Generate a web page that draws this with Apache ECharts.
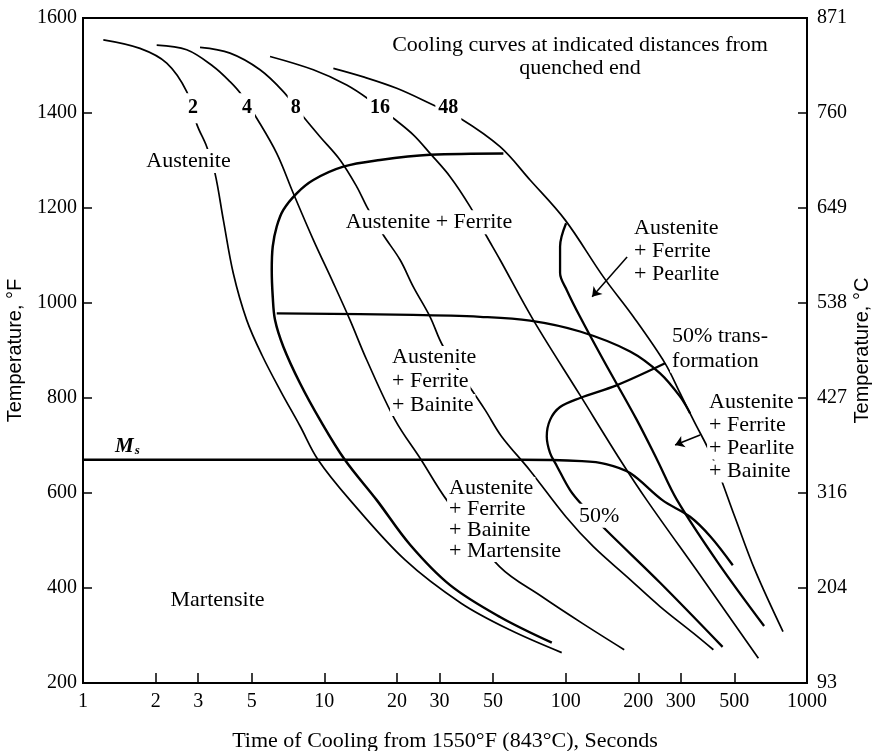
<!DOCTYPE html>
<html>
<head>
<meta charset="utf-8">
<script src="https://cdn.jsdelivr.net/npm/echarts@6/dist/echarts.min.js"></script>
<style>html,body{margin:0;padding:0;background:#fff}#c{width:873px;height:751px}</style>
</head>
<body>
<div id="c"></div>
<script>
// ---------- data ----------
const timeTicks = [1, 2, 3, 5, 10, 20, 30, 50, 100, 200, 300, 500, 1000];
const tempTicksF = [200, 400, 600, 800, 1000, 1200, 1400, 1600];
const tempTicksC = ['93', '204', '316', '427', '538', '649', '760', '871'];

// cooling curves [time s, temperature °F]
const cool2 = [[1.214,1554],[1.722,1536],[2.223,1505],[2.690,1445],[2.968,1375],[3.256,1329],[3.524,1273],[3.815,1175],[4.197,1062],[4.769,964],[5.519,890],[6.615,813],[7.93,741],[9.417,670],[12.78,585],[21.6,459],[36.86,368],[58.6,312],[96.3,264]];
const cool4 = [[2.020,1543],[2.690,1533],[3.467,1498],[4.067,1466],[4.547,1438],[5.247,1389],[6.350,1315],[7.437,1231],[9.003,1133],[10.90,1042],[12.78,964],[14.99,880],[19.63,754],[25.17,670],[32.16,585],[53.22,445],[79.6,382],[116.9,326],[174.8,270]];
const cool8 = [[3.054,1538],[4.067,1526],[5.414,1491],[6.763,1445],[8.185,1392],[9.598,1350],[11.62,1301],[13.62,1245],[14.99,1203],[17.56,1143],[20.59,1091],[23.38,1034],[27.42,971],[31.13,908],[46.35,775],[54.25,719],[71.0,648],[100.2,550],[130.3,487],[179.2,424],[246.2,361],[338.1,305],[409.4,270]];
const cool16 = [[5.957,1519],[9.003,1491],[12.38,1459],[15.47,1427],[19.32,1389],[23.38,1354],[27.42,1315],[33.2,1266],[40.17,1203],[47.1,1140],[53.46,1091],[73.48,964],[114.7,806],[168.1,670],[216.8,585],[367.6,421],[628.9,252]];
const cool48 = [[10.90,1494],[14.51,1476],[19.95,1452],[27.42,1420],[36.51,1389],[53.46,1329],[71.21,1259],[99.43,1175],[143.3,1055],[190.8,971],[258.2,873],[298,810],[338.1,754],[409.4,670],[502.1,550],[608.3,438],[795.4,308]];

// transformation lines
const ferriteStart = [[55.19,1315],[27.42,1312],[17.02,1301],[11.99,1287],[9.003,1259],[7.685,1231],[6.763,1196],[6.35,1161],[6.113,1119],[6.055,1070],[6.113,1013],[6.248,964],[6.763,908],[7.93,831],[9.598,754],[12.16,670],[16.49,585],[22.66,491],[33.2,406],[53.46,339],[87.6,285]];
const bainiteStart = [[6.35,978],[23.32,975],[44.19,971],[71.21,963],[114.7,940],[184.9,898],[246.2,852],[298,803],[327.7,768]];
const pearliteStart = [[100.4,1168],[94.8,1119],[94.8,1063],[101.1,1027],[114.7,971],[143.3,880],[197.1,754],[239.2,670],[289.5,585],[428.2,453],[664.1,320]];
const fiftyPercent = [[258.2,873],[163.3,827],[114.7,800],[94.8,781],[86.2,754],[83.5,719],[86.2,684],[91.9,657],[104.3,606],[116.9,575],[147.0,522],[246.2,411],[446.9,276]];
const msLine = [[1,670],[64.7,670],[116.9,667],[147,661],[184.9,642],[251.6,585],[327.7,550],[398.6,508],[492.6,448]];

// annotations [text, time, temperature]
const distanceLabels = ['2', '4', '8', '16', '48'];
const distanceLabelTimes = [2.857, 4.783, 7.61, 17.02, 32.65];
const distanceLabelTemp = 1410;
const centeredNotes = [
  ['Austenite', 2.737, 1299],
  ['Austenite + Ferrite', 27.16, 1170],
  ['50%', 137.6, 552],
  ['Martensite', 3.609, 375],
  ['Cooling curves at indicated distances from\nquenched end', 114.7, 1519]
];
const leftNotes = [
  ['Austenite\n+ Ferrite\n+ Pearlite', 188.5, 1110],
  ['50% trans-\nformation', 270.8, 903],
  ['Austenite\n+ Ferrite\n+ Pearlite\n+ Bainite', 385.5, 718],
  ['Austenite\n+ Ferrite\n+ Bainite', 18.72, 836],
  ['Austenite\n+ Ferrite\n+ Bainite\n+ Martensite', 32.25, 544]
];
const msNote = ['Ms', 1.357, 697];
const arrows = [[[179.7, 1097], [128.7, 1013]], [[360.6, 722], [284, 701]]];

// ---------- chart ----------
const INK = '#000';
const SERIF = 'Liberation Serif';
const SANS = 'Liberation Sans';
const leftLineHeights = [23, 25, 23, 24, 21];

function wrapRich(text) {
  return text.split('\n').map(s => '{m|' + s + '}').join('\n');
}
function lineSeries(name, data, width) {
  return {
    name, type: 'line', data, showSymbol: false, symbol: 'none', smooth: 0.35,
    lineStyle: { color: INK, width, opacity: 1 }, z: 2, silent: true
  };
}

const labelData = [];
distanceLabels.forEach((txt, i) => {
  labelData.push({
    value: [distanceLabelTimes[i], distanceLabelTemp],
    label: {
      show: true, position: 'inside', formatter: txt,
      fontFamily: SERIF, fontSize: 20, fontWeight: 'bold', color: INK,
      backgroundColor: '#fff', padding: [5, 3]
    }
  });
});
centeredNotes.forEach(n => {
  labelData.push({
    value: [n[1], n[2]],
    label: {
      show: true, position: 'inside', formatter: wrapRich(n[0]), color: INK,
      rich: { m: { fontFamily: SERIF, fontSize: 22, color: INK, backgroundColor: '#fff', padding: [1, 2], lineHeight: 23 } }
    }
  });
});
leftNotes.forEach((n, i) => {
  labelData.push({
    value: [n[1], n[2]],
    label: {
      show: true, position: 'right', distance: 0, align: 'left', formatter: wrapRich(n[0]), color: INK,
      rich: { m: { fontFamily: SERIF, fontSize: 22, color: INK, backgroundColor: '#fff', padding: [0, 2], lineHeight: leftLineHeights[i] } }
    }
  });
});
labelData.push({
  value: [msNote[1], msNote[2]],
  label: {
    show: true, position: 'right', distance: 0, formatter: '{a|M}{b|s}', color: INK,
    rich: {
      a: { fontFamily: SERIF, fontSize: 21, fontStyle: 'italic', fontWeight: 'bold', color: INK },
      b: { fontFamily: SERIF, fontSize: 13, fontStyle: 'italic', fontWeight: 'bold', color: INK, padding: [8, 0, 0, 1] }
    }
  }
});

const chart = echarts.init(document.getElementById('c'), null, { renderer: 'canvas' });
const axisFont = { fontFamily: SERIF, fontSize: 20, color: INK };

chart.setOption({
  animation: false,
  backgroundColor: '#fff',
  grid: {
    left: 83, right: 66, top: 18, bottom: 68, containLabel: false, outerBoundsMode: 'none',
    show: true, borderColor: INK, borderWidth: 2, backgroundColor: 'transparent'
  },
  xAxis: {
    type: 'log', logBase: 10, min: 1, max: 1000,
    name: 'Time of Cooling from 1550°F (843°C), Seconds',
    nameLocation: 'middle', nameGap: 47,
    nameTextStyle: { fontFamily: SERIF, fontSize: 22, color: INK },
    axisLine: { show: true, lineStyle: { color: INK, width: 2 } },
    axisTick: { show: true, inside: true, length: 10, customValues: timeTicks, lineStyle: { color: INK, width: 1.5 } },
    axisLabel: { show: true, customValues: timeTicks, margin: 9, ...axisFont, formatter: v => String(Math.round(v)) },
    splitLine: { show: false }, minorTick: { show: false }, minorSplitLine: { show: false }
  },
  yAxis: [
    {
      type: 'value', min: 200, max: 1600, interval: 200, position: 'left',
      name: 'Temperature, °F', nameLocation: 'middle', nameGap: 58, nameRotate: 90, nameMoveOverlap: false,
      nameTextStyle: { fontFamily: SANS, fontSize: 20, color: INK },
      axisLine: { show: true, lineStyle: { color: INK, width: 2 } },
      axisTick: { show: true, inside: true, length: 9, lineStyle: { color: INK, width: 1.5 } },
      axisLabel: { margin: 6, ...axisFont, formatter: v => String(tempTicksF[tempTicksF.indexOf(v)]) },
      splitLine: { show: false }
    },
    {
      type: 'value', min: 200, max: 1600, interval: 200, position: 'right',
      name: 'Temperature, °C', nameLocation: 'middle', nameGap: 45, nameRotate: 90, nameMoveOverlap: false,
      nameTextStyle: { fontFamily: SANS, fontSize: 20, color: INK },
      axisLine: { show: true, lineStyle: { color: INK, width: 2 } },
      axisTick: { show: true, inside: true, length: 9, lineStyle: { color: INK, width: 1.5 } },
      axisLabel: { margin: 10, ...axisFont, formatter: v => tempTicksC[tempTicksF.indexOf(v)] },
      splitLine: { show: false }
    }
  ],
  series: [
    lineSeries('2', cool2, 1.7),
    lineSeries('4', cool4, 1.7),
    lineSeries('8', cool8, 1.7),
    lineSeries('16', cool16, 1.7),
    lineSeries('48', cool48, 1.7),
    lineSeries('ferrite start', ferriteStart, 2.5),
    lineSeries('bainite start', bainiteStart, 2.3),
    lineSeries('pearlite start', pearliteStart, 2.3),
    lineSeries('50% transformation', fiftyPercent, 2.3),
    lineSeries('Ms', msLine, 2.3),
    {
      name: 'labels', type: 'scatter', data: labelData, symbolSize: 0, z: 10, silent: true,
      itemStyle: { opacity: 1 },
      markLine: {
        silent: true, symbol: ['none', 'arrow'], symbolSize: 9,
        label: { show: false },
        lineStyle: { color: INK, width: 1.5, type: 'solid', opacity: 1 },
        data: arrows.map(a => [{ coord: a[0] }, { coord: a[1] }])
      }
    }
  ]
});
</script>
</body>
</html>
